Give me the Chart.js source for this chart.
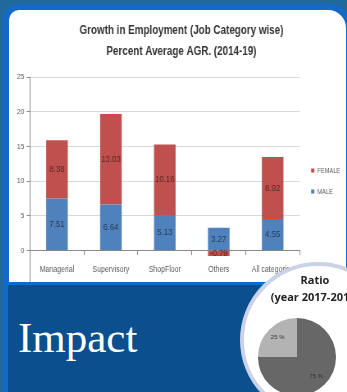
<!DOCTYPE html>
<html>
<head>
<meta charset="utf-8">
<script src="https://cdn.jsdelivr.net/npm/chart.js@4.4.1/dist/chart.umd.min.js"></script>
<style>
  html, body { margin: 0; padding: 0; }
  body {
    width: 347px; height: 392px; overflow: hidden; position: relative;
    background: #21699a;
  }
  #panel {
    position: absolute; left: 3px; top: 4px; width: 337px; height: 290px;
    background: #fff; border: 6px solid #1569c7; border-radius: 16px 24px 0 0;
  }
  /* squeeze the chart sideways so its text reads like a narrow face */
  #barWrap { position: absolute; left: 10px; top: 10px; transform: scaleX(0.82); transform-origin: 0 0; }
  #band {
    position: absolute; left: 3px; top: 282px; right: 0; bottom: 0;
    background: #0b4f8f; border-left: 5px solid #1569c7; border-top: 3px solid #1569c7;
  }
  #impact {
    position: absolute; left: 18px; top: 316px;
    font-family: 'Liberation Serif', 'DejaVu Serif', serif; font-size: 43px; line-height: 43px;
    color: #fff;
  }
  #ratio {
    position: absolute; left: 240px; top: 262px; width: 148px; height: 148px;
    border-radius: 50%; background: #fff; border: 4px solid #c9d2e6;
  }
  #ratioTitle {
    position: absolute; left: 255px; top: 271px; width: 120px; text-align: center;
    font-family: 'Open Sans', sans-serif; font-weight: bold; font-size: 11px; line-height: 17px;
    color: #222; white-space: nowrap;
  }
  #pieWrap { position: absolute; left: 252px; top: 312px; }
</style>
</head>
<body>
<div id="panel"></div>
<div id="barWrap"><canvas id="growthChart" width="415" height="283"></canvas></div>
<div id="band"></div>
<div id="impact">Impact</div>
<div id="ratio"></div>
<div id="ratioTitle">Ratio<br>(year 2017-2018)</div>
<div id="pieWrap"><canvas id="ratioChart" width="90" height="90"></canvas></div>
<script>
// Growth by job category, percent average AGR 2014-19
const categories = ['Managerial', 'Supervisory', 'ShopFloor', 'Others', 'All categories'];
const maleValues = [7.51, 6.64, 5.13, 3.27, 4.55];
const femaleValues = [8.38, 13.03, 10.16, -0.79, 8.92];
const yTicks = [-5, 0, 5, 10, 15, 20, 25];

// Ratio pie for 2017-18
const ratioLabels = ['Male', 'Female'];
const ratioValues = [75, 25];

const sans = "'Liberation Sans', Arial, sans-serif";

// write each value in the middle of its bar segment
const barValueLabels = {
    id: 'barValueLabels',
    afterDatasetsDraw(chart) {
        const ctx = chart.ctx;
        ctx.save();
        ctx.font = '9.5px ' + sans;
        ctx.fillStyle = 'rgba(0,0,0,0.55)';
        ctx.textAlign = 'center';
        ctx.textBaseline = 'middle';
        chart.data.datasets.forEach((ds, i) => {
            chart.getDatasetMeta(i).data.forEach((bar, j) => {
                ctx.fillText(ds.data[j].toFixed(2), bar.x, (bar.y + bar.base) / 2);
            });
        });
        ctx.restore();
    }
};

const growthCtx = document.getElementById('growthChart').getContext('2d');
const growthChart = new Chart(growthCtx, {
    type: 'bar',
    data: {
        labels: categories,
        datasets: [
            { label: 'MALE', data: maleValues, backgroundColor: '#4f81bd' },
            { label: 'FEMALE', data: femaleValues, backgroundColor: '#c0504d' }
        ]
    },
    options: {
        responsive: false,
        animation: false,
        devicePixelRatio: 1,
        layout: { padding: { left: 5.5, right: 2.3, bottom: 0 } },
        datasets: { bar: { categoryPercentage: 1, barPercentage: 0.4 } },
        scales: {
            x: {
                stacked: true,
                position: { y: 0 },
                grid: { drawOnChartArea: false, offset: true, tickLength: 4, color: '#898989' },
                border: { color: '#898989' },
                ticks: {
                    font: { size: 8.5, family: sans }, color: '#595959',
                    padding: 10, maxRotation: 0, autoSkip: false
                }
            },
            y: {
                stacked: true,
                min: yTicks[0],
                max: yTicks[yTicks.length - 1],
                ticks: {
                    stepSize: yTicks[1] - yTicks[0],
                    font: { size: 8, family: sans }, color: '#595959', padding: 3
                },
                grid: { color: '#d9d9d9', tickLength: 4, tickColor: '#898989' },
                border: { color: '#898989' }
            }
        },
        plugins: {
            title: {
                display: true,
                text: ['Growth in Employment (Job Category wise)', 'Percent Average AGR. (2014-19)'],
                font: { size: 12, weight: 'bold', family: sans, lineHeight: 1.75 },
                color: '#333',
                padding: { top: 10, bottom: 15 }
            },
            legend: {
                position: 'right',
                fullSize: false,
                reverse: true,
                labels: {
                    boxWidth: 4, boxHeight: 4, padding: 14,
                    font: { size: 7, family: sans }, color: '#595959'
                }
            },
            tooltip: { enabled: false }
        }
    },
    plugins: [barValueLabels]
});

// percentage text inside each slice
const sliceLabels = {
    id: 'sliceLabels',
    afterDatasetsDraw(chart) {
        const ctx = chart.ctx;
        ctx.save();
        ctx.font = '6px ' + sans;
        ctx.fillStyle = '#333';
        ctx.textAlign = 'center';
        ctx.textBaseline = 'middle';
        const ds = chart.data.datasets[0];
        chart.getDatasetMeta(0).data.forEach((arc, i) => {
            const p = arc.getProps(['x', 'y', 'startAngle', 'endAngle', 'outerRadius']);
            const mid = (p.startAngle + p.endAngle) / 2;
            const r = p.outerRadius * 0.7;
            ctx.fillText(ds.data[i] + ' %', p.x + Math.cos(mid) * r, p.y + Math.sin(mid) * r);
        });
        ctx.restore();
    }
};

const ratioCtx = document.getElementById('ratioChart').getContext('2d');
const ratioChart = new Chart(ratioCtx, {
    type: 'pie',
    data: {
        labels: ratioLabels,
        datasets: [{ data: ratioValues, backgroundColor: ['#676767', '#b3b3b3'], borderWidth: 0 }]
    },
    options: {
        responsive: false,
        animation: false,
        devicePixelRatio: 1,
        layout: { padding: 6 },
        plugins: { legend: { display: false }, tooltip: { enabled: false } }
    },
    plugins: [sliceLabels]
});
</script>
</body>
</html>
